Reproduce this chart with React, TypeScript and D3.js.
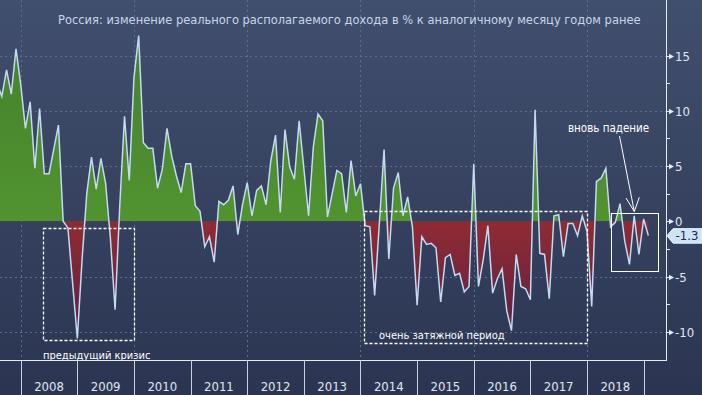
import React, { useEffect, useRef } from 'react';
import * as d3 from 'd3';

const title = 'Россия: изменение реального располагаемого дохода в % к аналогичному месяцу годом ранее';
const yearLabels = ['2008', '2009', '2010', '2011', '2012', '2013', '2014', '2015', '2016', '2017', '2018'];
const yTicks = [15, 10, 5, 0, -5, -10];
const yMinorTicks = [12.5, 7.5, 2.5, -2.5, -7.5];

// monthly values, % y/y, starting July 2007
const startYear = 2007;
const startMonth = 6;
const v2007 = [12.5, 11.3, 13.7, 11.5, 15.6, 12.4];
const v2008 = [8.4, 10.8, 4.8, 10.2, 4.3, 4.3, 6.5, 8.7, 0.0, -0.6, -5.6, -10.6];
const v2009 = [-3.5, 2.5, 5.8, 2.9, 5.7, 3.4, -1.5, -8.0, 1.5, 9.5, 3.7, 13.0];
const v2010 = [16.8, 7.1, 6.6, 6.6, 3.0, 4.7, 8.4, 5.9, 4.1, 2.6, 5.2, 5.2];
const v2011 = [1.4, 0.9, -2.3, -1.4, -3.7, 1.8, 1.5, 1.9, 3.2, -1.2, 1.5, 3.5];
const v2012 = [0.5, 2.8, 3.2, 1.5, 5.5, 7.8, 0.8, 8.3, 4.9, 3.8, 9.1, 4.8];
const v2013 = [0.5, 6.7, 9.7, 9.1, 0.4, 2.5, 4.6, 4.3, 0.8, 5.5, 2.3, 3.4];
const v2014 = [-0.4, -0.5, -6.7, -0.2, 6.5, -3.4, 3.0, 4.4, 0.5, 2.2, -0.5, -7.6];
const v2015 = [-1.4, -2.1, -2.0, -2.4, -7.3, -3.3, -3.0, -4.9, -4.7, -6.4, -5.9, 5.2];
const v2016 = [-5.9, -3.5, -0.4, -6.5, -5.2, -4.3, -8.1, -9.9, -3.0, -5.9, -6.1, -7.1];
const v2017 = [10.1, -2.9, -3.0, -7.0, 0.5, 0.6, -3.2, -0.2, -0.2, -1.3, 0.5, -0.9];
const v2018 = [-7.7, 3.6, 3.9, 4.8, -0.5, -0.1, 1.6, -1.8, -3.9, 0.5, -3.0, 0.2];
const v2019 = [-1.3];

const font = "'DejaVu Sans Condensed', 'DejaVu Sans', sans-serif";

export default function App () {
  const ref = useRef<SVGSVGElement>(null);

  useEffect(() => {
    const width = 702;
    const height = 395;
    const axisX = 666;
    const bandTop = 360;

    const values = [].concat(v2007, v2008, v2009, v2010, v2011, v2012, v2013, v2014, v2015, v2016, v2017, v2018, v2019) as number[];
    // each point sits at the end of its month
    const data = values.map((v, i) => ({ t: startYear + (startMonth + i + 1) / 12, v }));
    const last = data[data.length - 1];

    const x = d3.scaleLinear().domain([2008, 2018]).range([20.7, 587]);
    const y = d3.scaleLinear().domain([-10, 15]).range([331.8, 55.5]);

    const svg = d3.select(ref.current);
    svg.selectAll('*').remove();
    const defs = svg.append('defs');

    const bg = defs.append('linearGradient').attr('id', 'bg')
      .attr('x1', 0).attr('y1', 0).attr('x2', 0).attr('y2', 1);
    bg.append('stop').attr('offset', '0%').attr('stop-color', '#414f6e');
    bg.append('stop').attr('offset', '100%').attr('stop-color', '#2b3552');

    const gGreen = defs.append('linearGradient').attr('id', 'gGreen')
      .attr('gradientUnits', 'userSpaceOnUse').attr('x1', 0).attr('x2', 0)
      .attr('y1', y(15)).attr('y2', y(0));
    gGreen.append('stop').attr('offset', '0%').attr('stop-color', '#47832d');
    gGreen.append('stop').attr('offset', '100%').attr('stop-color', '#519330');

    const gRed = defs.append('linearGradient').attr('id', 'gRed')
      .attr('gradientUnits', 'userSpaceOnUse').attr('x1', 0).attr('x2', 0)
      .attr('y1', y(0)).attr('y2', y(-11));
    gRed.append('stop').attr('offset', '0%').attr('stop-color', '#902b33');
    gRed.append('stop').attr('offset', '100%').attr('stop-color', '#5a2142');

    defs.append('clipPath').attr('id', 'above').append('rect')
      .attr('x', 0).attr('y', 0).attr('width', axisX).attr('height', y(0));
    defs.append('clipPath').attr('id', 'below').append('rect')
      .attr('x', 0).attr('y', y(0)).attr('width', axisX).attr('height', bandTop - y(0));

    svg.append('rect').attr('width', width).attr('height', height).attr('fill', 'url(#bg)');

    // grid
    const grid = svg.append('g').attr('stroke', '#5b6e8e').attr('stroke-dasharray', '2,3').attr('stroke-width', 1);
    grid.selectAll('line.h')
      .data(yTicks.filter(d => d !== 0))
      .enter().append('line')
      .attr('x1', 0).attr('x2', axisX)
      .attr('y1', d => Math.round(y(d)) + 0.5).attr('y2', d => Math.round(y(d)) + 0.5);
    grid.selectAll('line.v')
      .data(yearLabels.filter(d => +d % 2 === 0))
      .enter().append('line')
      .attr('y1', 0).attr('y2', bandTop)
      .attr('x1', d => Math.round(x(+d)) + 0.5).attr('x2', d => Math.round(x(+d)) + 0.5);

    // areas
    const area = d3.area<{ t: number, v: number }>()
      .x(d => x(d.t))
      .y0(y(0))
      .y1(d => y(d.v));
    svg.append('path').attr('d', area(data)).attr('fill', 'url(#gGreen)').attr('clip-path', 'url(#above)');
    svg.append('path').attr('d', area(data)).attr('fill', 'url(#gRed)').attr('clip-path', 'url(#below)');

    const line = d3.line<{ t: number, v: number }>()
      .x(d => x(d.t))
      .y(d => y(d.v));
    svg.append('path').attr('d', line(data))
      .attr('fill', 'none')
      .attr('stroke', '#c3daf0')
      .attr('stroke-width', 1.5)
      .attr('stroke-linejoin', 'miter');

    // title
    svg.append('text')
      .attr('x', 58).attr('y', 23.5)
      .attr('font-family', font).attr('font-size', 12.75)
      .attr('fill', '#c8d5e9')
      .text(title);

    // annotation boxes
    const dashed = [
      { t0: 2008.4, t1: 2010.0, v0: -0.63, v1: -10.8 },
      { t0: 2014.067, t1: 2018.0, v0: 0.96, v1: -11.0 }
    ];
    svg.selectAll('rect.box')
      .data(dashed)
      .enter().append('rect')
      .attr('x', d => Math.round(x(d.t0)) + 0.5)
      .attr('y', d => Math.round(y(d.v0)) + 0.5)
      .attr('width', d => Math.round(x(d.t1) - x(d.t0)))
      .attr('height', d => Math.round(y(d.v1) - y(d.v0)))
      .attr('fill', 'none')
      .attr('stroke', '#ffffff')
      .attr('stroke-width', 1.3)
      .attr('stroke-dasharray', '3,2');

    svg.append('rect')
      .attr('x', Math.round(x(2018.42)) + 0.5)
      .attr('y', Math.round(y(0.72)) + 0.5)
      .attr('width', Math.round(x(2019.25) - x(2018.42)))
      .attr('height', Math.round(y(-4.5) - y(0.72)))
      .attr('fill', 'none')
      .attr('stroke', '#ffffff')
      .attr('stroke-width', 1);

    const notes = [
      { text: 'предыдущий кризис', x: 43, y: 358.5, size: 11 },
      { text: 'очень затяжной период', x: 379, y: 338.5, size: 11 },
      { text: 'вновь падение', x: 568, y: 131.5, size: 11.5 }
    ];
    svg.selectAll('text.note')
      .data(notes)
      .enter().append('text')
      .attr('x', d => d.x).attr('y', d => d.y)
      .attr('font-family', font).attr('font-size', d => d.size)
      .attr('fill', '#ffffff')
      .text(d => d.text);

    // arrow
    const arrow = svg.append('g').attr('stroke', '#ffffff').attr('stroke-width', 1).attr('fill', 'none');
    arrow.append('line').attr('x1', 619.5).attr('y1', 136).attr('x2', 634.3).attr('y2', 211.5);
    arrow.append('polyline').attr('points', '626,198 634.3,211.5 639.3,197.3');

    // bottom band
    svg.append('line')
      .attr('x1', 0).attr('x2', axisX)
      .attr('y1', bandTop + 0.5).attr('y2', bandTop + 0.5)
      .attr('stroke', '#e6ecf4').attr('stroke-width', 1);
    const bounds = yearLabels.map(d => +d).concat([2019]);
    svg.selectAll('line.sep')
      .data(bounds)
      .enter().append('line')
      .attr('x1', d => Math.round(x(d)) + 0.5).attr('x2', d => Math.round(x(d)) + 0.5)
      .attr('y1', bandTop).attr('y2', height)
      .attr('stroke', '#c9d2df').attr('stroke-width', 1);
    svg.selectAll('text.year')
      .data(yearLabels)
      .enter().append('text')
      .attr('x', d => x(+d + 0.5))
      .attr('y', 391)
      .attr('text-anchor', 'middle')
      .attr('font-family', font).attr('font-size', 13)
      .attr('fill', '#e1e7f0')
      .text(d => d);

    // right axis
    svg.append('line')
      .attr('x1', axisX + 0.5).attr('x2', axisX + 0.5)
      .attr('y1', 0).attr('y2', bandTop + 1)
      .attr('stroke', '#e6ecf4').attr('stroke-width', 1);
    svg.selectAll('line.minor')
      .data(yMinorTicks)
      .enter().append('line')
      .attr('x1', axisX).attr('x2', axisX + 4)
      .attr('y1', d => Math.round(y(d)) + 0.5).attr('y2', d => Math.round(y(d)) + 0.5)
      .attr('stroke', '#e6ecf4');
    const major = svg.selectAll('g.major')
      .data(yTicks)
      .enter().append('g')
      .attr('transform', d => 'translate(' + axisX + ',' + (Math.round(y(d)) + 0.5) + ')');
    major.append('path')
      .attr('d', 'M0,-0.5L3,-0.5L3,-2.8L8,0L3,2.8L3,0.5L0,0.5Z')
      .attr('fill', '#e6ecf4');
    major.append('text')
      .attr('x', 9).attr('dy', '0.36em')
      .attr('font-family', font).attr('font-size', 13)
      .attr('fill', '#e1e7f0')
      .text(d => String(d));

    // last value callout
    const ly = y(last.v);
    svg.append('path')
      .attr('d', 'M' + (axisX + 1) + ',' + ly + 'L' + (axisX + 7) + ',' + (ly - 7) + 'L' + width + ',' + (ly - 7) +
        'L' + width + ',' + (ly + 7.5) + 'L' + (axisX + 7) + ',' + (ly + 7.5) + 'Z')
      .attr('fill', '#cfe3f7')
      .attr('stroke', '#eaf3fc');
    svg.append('text')
      .attr('x', 687).attr('y', ly).attr('dy', '0.36em')
      .attr('text-anchor', 'middle')
      .attr('font-family', font).attr('font-size', 13)
      .attr('fill', '#1c2944')
      .text(last.v.toFixed(1));
  }, []);

  return <svg ref={ref} width={702} height={395} style={{ position: 'absolute', left: 0, top: 0, display: 'block' }} />;
}
